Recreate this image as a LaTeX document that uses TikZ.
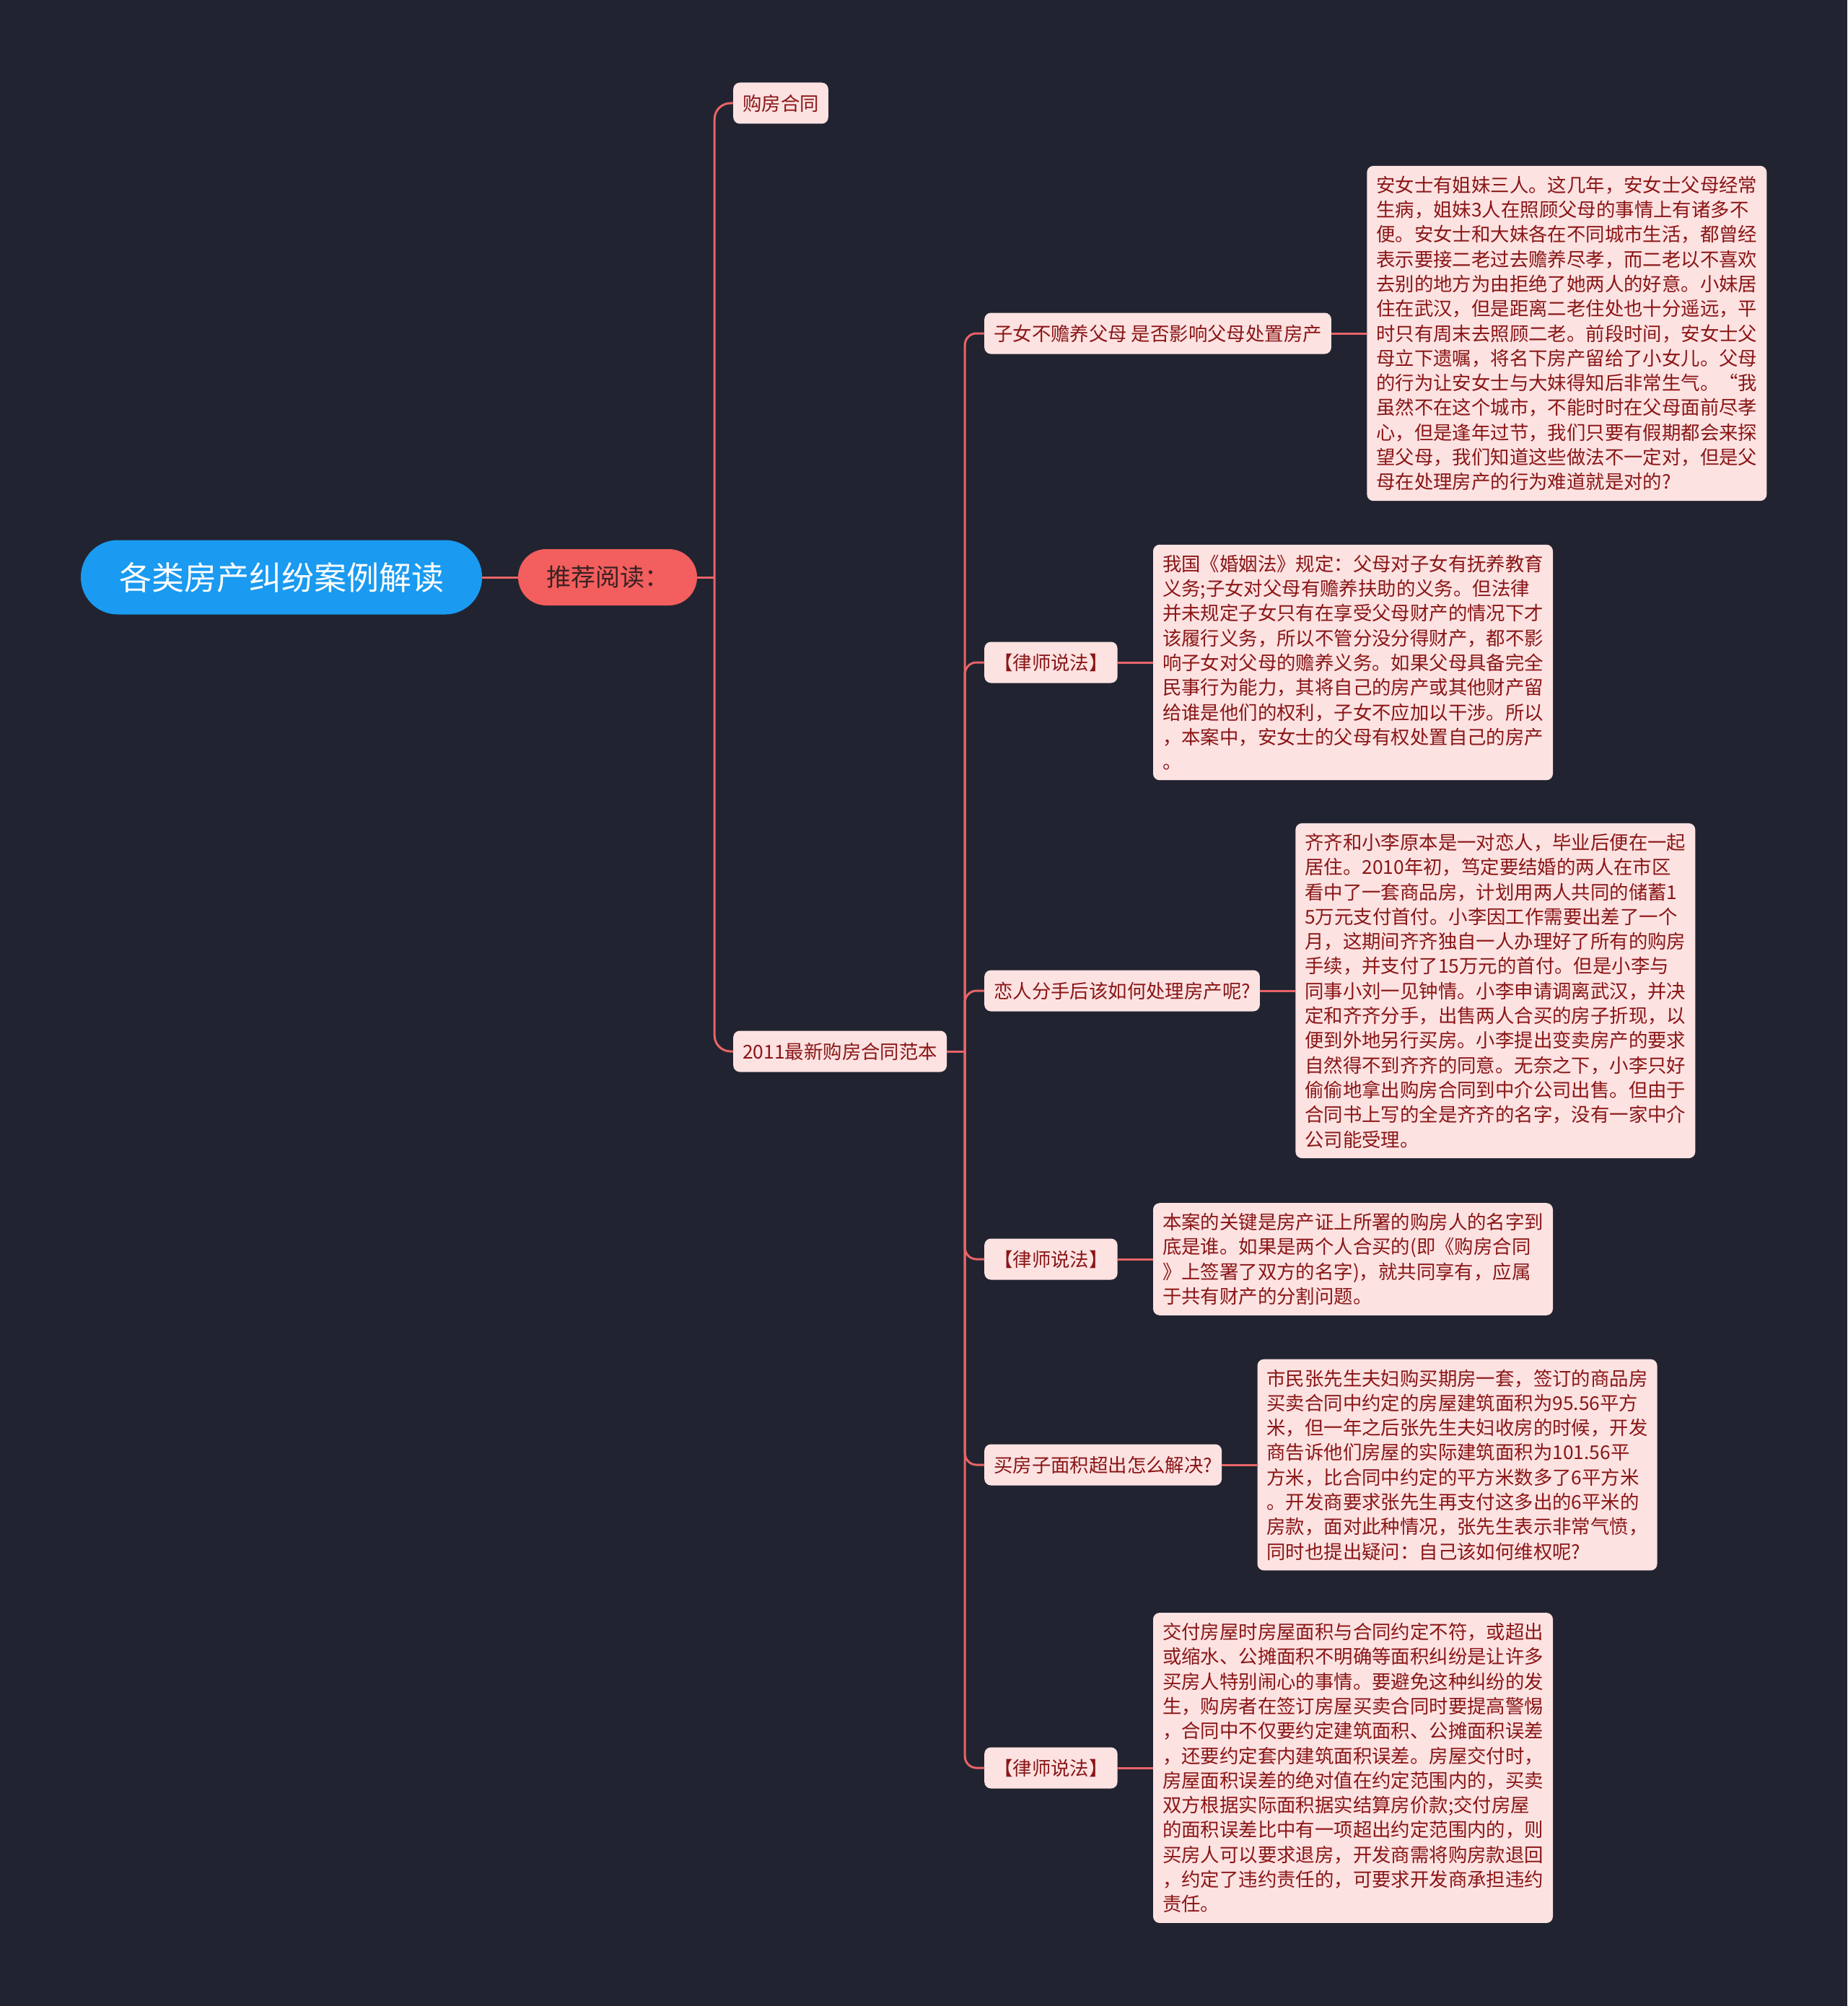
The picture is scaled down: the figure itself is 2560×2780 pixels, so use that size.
\documentclass[tikz,border=0pt]{standalone}
\usepackage{fontspec}
\setmainfont{Noto Sans CJK SC}
\usepackage{xcolor}
\usetikzlibrary{positioning, calc}
\definecolor{bgdark}{RGB}{33,36,48}
\definecolor{rootblue}{RGB}{26,154,240}
\definecolor{redfill}{RGB}{243,94,94}
\definecolor{pinkfill}{RGB}{253,226,226}
\definecolor{darkred}{RGB}{138,22,22}
\definecolor{linkred}{RGB}{232,100,104}
\tikzstyle{branch} = [line width=3pt, draw=linkred, -]

\begin{document}
\begin{tikzpicture}[
    x=1pt, y=-1pt,
    rootnode/.style={rectangle, rounded corners=51pt, fill=rootblue, text=white, minimum width=556pt, minimum height=103pt, font=\fontsize{45}{54}\selectfont},
    readnode/.style={rectangle, rounded corners=39pt, fill=redfill, text={rgb,255:red,58;green,34;blue,34}, minimum width=248pt, minimum height=78pt, font=\fontsize{34}{40}\selectfont},
    topic/.style={rectangle, rounded corners=9pt, fill=pinkfill, text=darkred, minimum height=57pt, inner xsep=13pt, anchor=west, font=\fontsize{26.4}{32}\selectfont},
    detail/.style={rectangle, rounded corners=9pt, fill=pinkfill, text=darkred, text width=528pt, align=left, inner xsep=13pt, inner ysep=14pt, font=\fontsize{26.4}{34.3}\selectfont}
]
    \fill[bgdark] (0,0) rectangle (2560,2780);
    \useasboundingbox (0,0) rectangle (2560,2780);

    \node[rootnode] (root) at (390,800) {各类房产纠纷案例解读};
    \node[readnode] (reading) at (842,800) {推荐阅读：};

    \node[topic] (contract) at (1016,143) {购房合同};
    \node[topic] (sample) at (1016,1457) {2011最新购房合同范本};

    \node[topic] (n1) at (1364,462) {子女不赡养父母 是否影响父母处置房产};
    \node[topic] (n2) at (1364,918) {【律师说法】};
    \node[topic] (n3) at (1364,1373) {恋人分手后该如何处理房产呢?};
    \node[topic] (n4) at (1364,1745) {【律师说法】};
    \node[topic] (n5) at (1364,2030) {买房子面积超出怎么解决?};
    \node[topic] (n6) at (1364,2450) {【律师说法】};

    \node[detail, right=49pt of n1] (d1) {安女士有姐妹三人。这几年，安女士父母经常\\生病，姐妹3人在照顾父母的事情上有诸多不\\便。安女士和大妹各在不同城市生活，都曾经\\表示要接二老过去赡养尽孝，而二老以不喜欢\\去别的地方为由拒绝了她两人的好意。小妹居\\住在武汉，但是距离二老住处也十分遥远，平\\时只有周末去照顾二老。前段时间，安女士父\\母立下遗嘱，将名下房产留给了小女儿。父母\\的行为让安女士与大妹得知后非常生气。“我\\虽然不在这个城市，不能时时在父母面前尽孝\\心，但是逢年过节，我们只要有假期都会来探\\望父母，我们知道这些做法不一定对，但是父\\母在处理房产的行为难道就是对的?};
    \node[detail, right=49pt of n2] (d2) {我国《婚姻法》规定：父母对子女有抚养教育\\义务;子女对父母有赡养扶助的义务。但法律\\并未规定子女只有在享受父母财产的情况下才\\该履行义务，所以不管分没分得财产，都不影\\响子女对父母的赡养义务。如果父母具备完全\\民事行为能力，其将自己的房产或其他财产留\\给谁是他们的权利，子女不应加以干涉。所以\\，本案中，安女士的父母有权处置自己的房产\\。};
    \node[detail, right=49pt of n3] (d3) {齐齐和小李原本是一对恋人，毕业后便在一起\\居住。2010年初，笃定要结婚的两人在市区\\看中了一套商品房，计划用两人共同的储蓄1\\5万元支付首付。小李因工作需要出差了一个\\月，这期间齐齐独自一人办理好了所有的购房\\手续，并支付了15万元的首付。但是小李与\\同事小刘一见钟情。小李申请调离武汉，并决\\定和齐齐分手，出售两人合买的房子折现，以\\便到外地另行买房。小李提出变卖房产的要求\\自然得不到齐齐的同意。无奈之下，小李只好\\偷偷地拿出购房合同到中介公司出售。但由于\\合同书上写的全是齐齐的名字，没有一家中介\\公司能受理。};
    \node[detail, right=49pt of n4] (d4) {本案的关键是房产证上所署的购房人的名字到\\底是谁。如果是两个人合买的(即《购房合同\\》上签署了双方的名字)，就共同享有，应属\\于共有财产的分割问题。};
    \node[detail, right=49pt of n5] (d5) {市民张先生夫妇购买期房一套，签订的商品房\\买卖合同中约定的房屋建筑面积为95.56平方\\米，但一年之后张先生夫妇收房的时候，开发\\商告诉他们房屋的实际建筑面积为101.56平\\方米，比合同中约定的平方米数多了6平方米\\。开发商要求张先生再支付这多出的6平米的\\房款，面对此种情况，张先生表示非常气愤，\\同时也提出疑问：自己该如何维权呢?};
    \node[detail, right=49pt of n6] (d6) {交付房屋时房屋面积与合同约定不符，或超出\\或缩水、公摊面积不明确等面积纠纷是让许多\\买房人特别闹心的事情。要避免这种纠纷的发\\生，购房者在签订房屋买卖合同时要提高警惕\\，合同中不仅要约定建筑面积、公摊面积误差\\，还要约定套内建筑面积误差。房屋交付时，\\房屋面积误差的绝对值在约定范围内的，买卖\\双方根据实际面积据实结算房价款;交付房屋\\的面积误差比中有一项超出约定范围内的，则\\买房人可以要求退房，开发商需将购房款退回\\，约定了违约责任的，可要求开发商承担违约\\责任。};

    \draw[branch] (root) -- (reading);
    \draw[branch] (reading.east) -- ++(24,0) coordinate (trunk1);
    \draw[branch, rounded corners=22pt] (trunk1) |- (contract.west);
    \draw[branch, rounded corners=22pt] (trunk1) |- (sample.west);

    \draw[branch] (sample.east) -- ++(25,0) coordinate (trunk2);
    \foreach \n in {n1,n2,n3,n4,n5,n6}
        \draw[branch, rounded corners=16pt] (trunk2) |- (\n.west);

    \foreach \i in {1,...,6}
        \draw[branch] (n\i) -- (d\i);
\end{tikzpicture}
\end{document}
